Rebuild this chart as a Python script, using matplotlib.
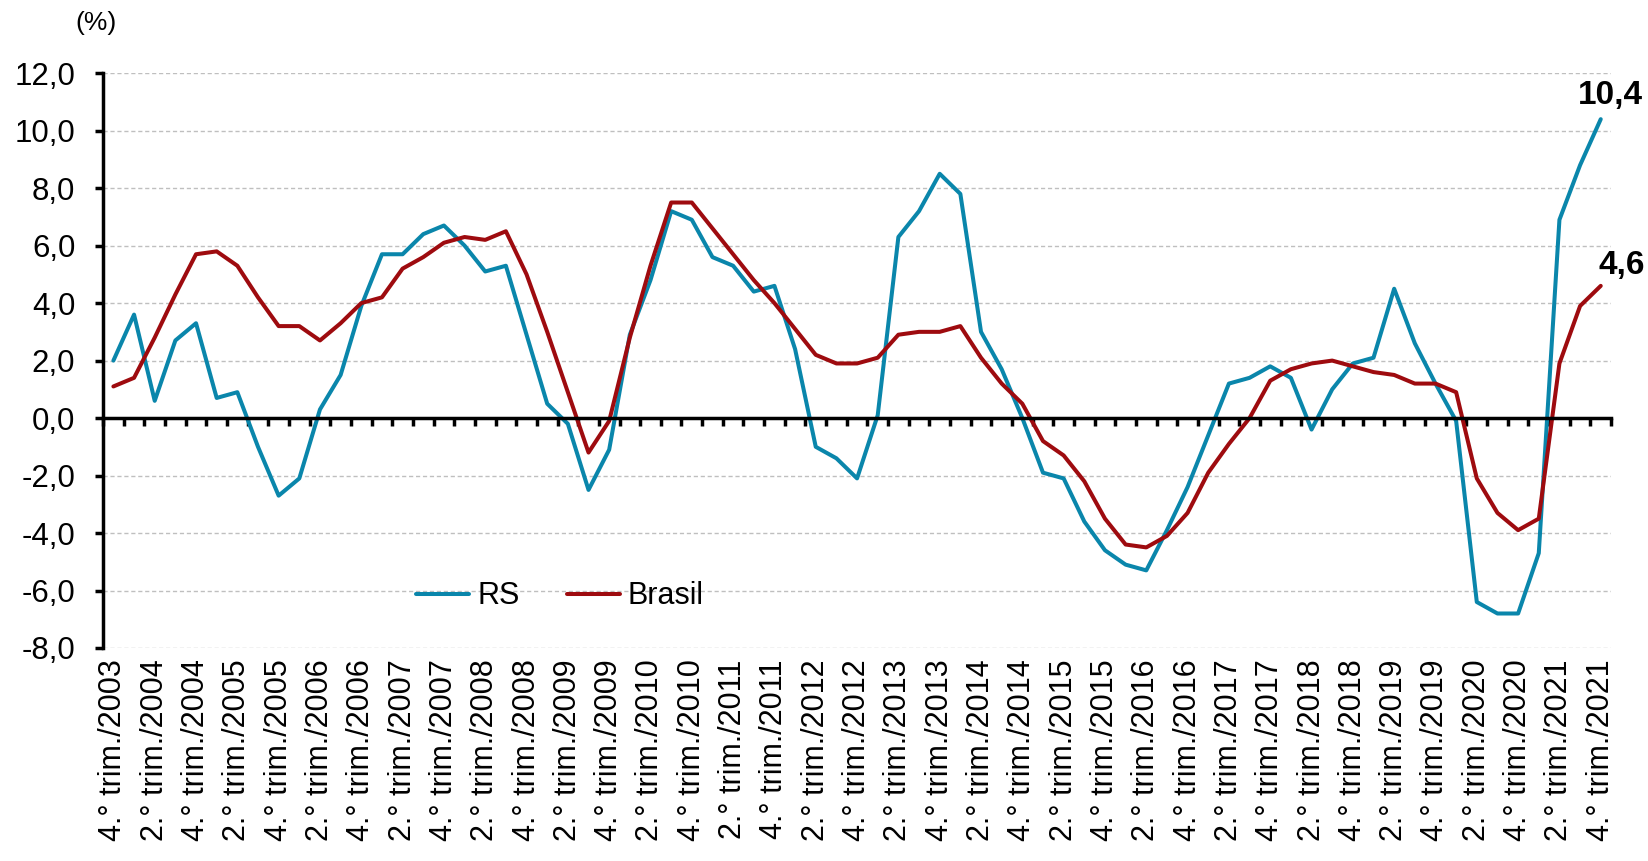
import matplotlib
matplotlib.use("Agg")
import matplotlib.pyplot as plt
from matplotlib.ticker import FuncFormatter

plt.rcParams['font.family'] = ['Liberation Sans', 'DejaVu Sans']

# quarters from 4.° trim./2003 to 4.° trim./2021
quarters = [f"{q}.° trim./{y}" for y in range(2003, 2022) for q in (1, 2, 3, 4)][3:]

rs = [2.0, 3.6, 0.6, 2.7, 3.3, 0.7, 0.9, -1.0, -2.7, -2.1,
      0.3, 1.5, 3.9, 5.7, 5.7, 6.4, 6.7, 6.0, 5.1, 5.3,
      2.9, 0.5, -0.2, -2.5, -1.1, 2.9, 4.8, 7.2, 6.9, 5.6,
      5.3, 4.4, 4.6, 2.4, -1.0, -1.4, -2.1, 0.1, 6.3, 7.2,
      8.5, 7.8, 3.0, 1.7, 0.0, -1.9, -2.1, -3.6, -4.6, -5.1,
      -5.3, -3.9, -2.4, -0.6, 1.2, 1.4, 1.8, 1.4, -0.4, 1.0,
      1.9, 2.1, 4.5, 2.6, 1.2, -0.1, -6.4, -6.8, -6.8, -4.7,
      6.9, 8.8, 10.4]

brasil = [1.1, 1.4, 2.8, 4.3, 5.7, 5.8, 5.3, 4.2, 3.2, 3.2,
          2.7, 3.3, 4.0, 4.2, 5.2, 5.6, 6.1, 6.3, 6.2, 6.5,
          5.0, 3.0, 0.9, -1.2, -0.1, 2.8, 5.3, 7.5, 7.5, 6.6,
          5.7, 4.8, 4.0, 3.1, 2.2, 1.9, 1.9, 2.1, 2.9, 3.0,
          3.0, 3.2, 2.1, 1.2, 0.5, -0.8, -1.3, -2.2, -3.5, -4.4,
          -4.5, -4.1, -3.3, -1.9, -0.9, 0.0, 1.3, 1.7, 1.9, 2.0,
          1.8, 1.6, 1.5, 1.2, 1.2, 0.9, -2.1, -3.3, -3.9, -3.5,
          1.9, 3.9, 4.6]

yticks = [-8, -6, -4, -2, 0, 2, 4, 6, 8, 10, 12]

blue = '#0A86AB'
red = '#9E0B0F'

fig = plt.figure(figsize=(16.49, 8.61), dpi=100)
ax = fig.add_axes([0.0625, 0.2474, 0.9145, 0.6676])

x = list(range(len(quarters)))
ax.plot(x, rs, color=blue, lw=2.9, label='RS',
        solid_joinstyle='round', solid_capstyle='round')
ax.plot(x, brasil, color=red, lw=2.9, label='Brasil',
        solid_joinstyle='round', solid_capstyle='round')

ax.set_xlim(-0.5, len(quarters) - 0.5)
ax.set_ylim(-8, 12)

# grid
for v in yticks:
    if v != 0:
        ax.axhline(v, color='#bfbfbf', lw=1.0, ls=(0, (3, 2)), zorder=0)

# spines
for s in ('top', 'right'):
    ax.spines[s].set_visible(False)
ax.spines['left'].set_linewidth(2.5)
ax.spines['bottom'].set_position(('data', 0))
ax.spines['bottom'].set_linewidth(2.5)

ax.set_yticks(yticks)
ax.yaxis.set_major_formatter(FuncFormatter(lambda v, p: f"{v:.1f}".replace('.', ',')))
ax.tick_params(axis='y', length=6, width=2.5, labelsize=22.5, pad=14)

ax.set_xticks([i - 0.5 for i in range(len(quarters) + 1)])
ax.set_xticklabels([])
ax.tick_params(axis='x', length=6, width=2.5, direction='out')

# category labels at the bottom
for i in range(0, len(quarters), 2):
    ax.text(i, -0.02, quarters[i], transform=ax.get_xaxis_transform(),
            rotation=90, ha='center', va='top', fontsize=22)

# end labels
ax.annotate(f"{rs[-1]:.1f}".replace('.', ','), (x[-1], rs[-1]), xytext=(7, 11),
            textcoords='offset points', ha='center', va='baseline',
            fontsize=24, fontweight='bold')
ax.annotate(f"{brasil[-1]:.1f}".replace('.', ','), (x[-1], brasil[-1]), xytext=(15, 8.5),
            textcoords='offset points', ha='center', va='baseline',
            fontsize=24, fontweight='bold')

fig.text(0.0585, 0.973, '(%)', fontsize=19, ha='center', va='center')

leg = ax.legend(loc='center', bbox_to_anchor=(0.303, 0.09), ncol=2, frameon=False,
                fontsize=22, handlelength=1.75, handletextpad=0.25, columnspacing=1.55)
for line in leg.get_lines():
    line.set_solid_capstyle('round')

fig.savefig('out.png', dpi=100)
